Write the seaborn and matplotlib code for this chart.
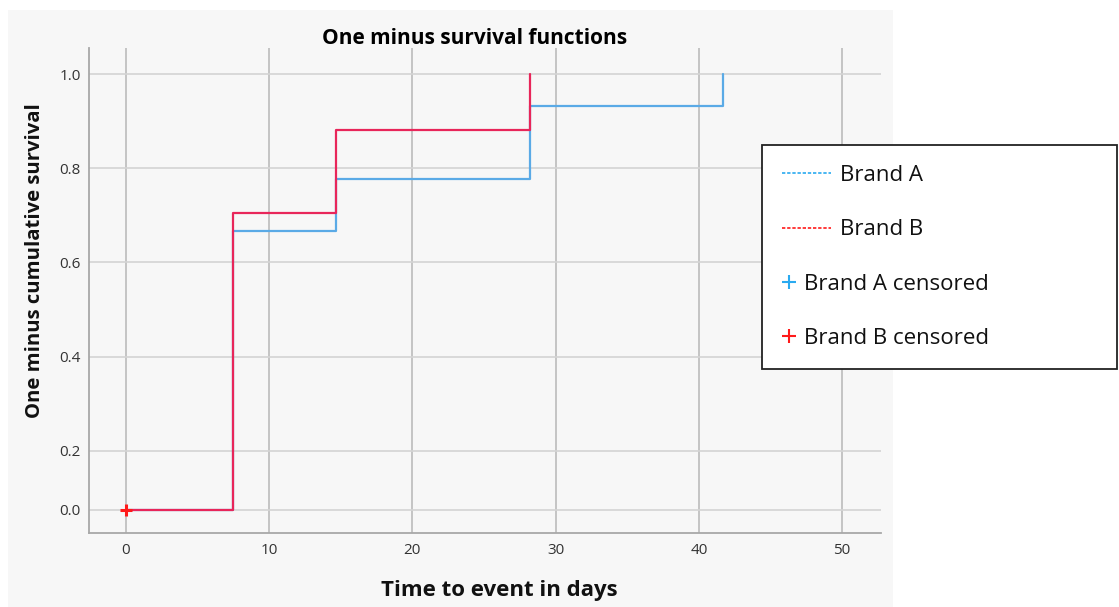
import numpy as np
import pandas as pd
import matplotlib
matplotlib.use("Agg")
import matplotlib.pyplot as plt
from matplotlib.lines import Line2D
from matplotlib.patches import Rectangle
import seaborn as sns

# ---- data ----
brand_a_time = [0, 7.5, 14.7, 28.2, 41.7]
brand_a_value = [0.0, 0.667, 0.778, 0.933, 1.0]
brand_b_time = [0, 7.5, 14.7, 28.2]
brand_b_value = [0.0, 0.706, 0.882, 1.0]
censored_b_time = [0]
censored_b_value = [0.0]
x_ticks = [0, 10, 20, 30, 40, 50]
y_ticks = [0.0, 0.2, 0.4, 0.6, 0.8, 1.0]
y_tick_labels = ["0.0", "0.2", "0.4", "0.6", "0.8", "1.0"]

df = pd.concat([
    pd.DataFrame({"time": brand_a_time, "value": brand_a_value, "brand": "Brand A"}),
    pd.DataFrame({"time": brand_b_time, "value": brand_b_value, "brand": "Brand B"}),
], ignore_index=True)

sns.set_theme(style="whitegrid")
plt.rcParams["font.family"] = ["Open Sans", "DejaVu Sans"]

BG = "#f7f7f7"
fig = plt.figure(figsize=(11.19, 6.07), dpi=100, facecolor="white")
fig.patches.append(Rectangle((8 / 1119, 0), (893 - 8) / 1119, (607 - 10) / 607,
                             transform=fig.transFigure, facecolor=BG,
                             edgecolor="none", zorder=-10))
ax = fig.add_axes([89 / 1119, 1 - 533 / 607, (881 - 89) / 1119, (533 - 48) / 607])
ax.set_facecolor(BG)

pal = {"Brand A": "#5aaae6", "Brand B": "#e8265a"}
sns.lineplot(data=df, x="time", y="value", hue="brand", palette=pal,
             estimator=None, sort=False, drawstyle="steps-post",
             linewidth=1.6, legend=False, ax=ax, zorder=3)
ax.plot(censored_b_time, censored_b_value, linestyle="none", marker="+",
        color="#ff1a1a", markersize=9, markeredgewidth=2.2, zorder=4)

# piecewise axis scale (lower segment compressed as in the original)
k = 0.6275
def fwd(v):
    v = np.asarray(v, dtype=float)
    return np.where(v < 0.2, 0.2 - (0.2 - v) * k, v)
def inv(u):
    u = np.asarray(u, dtype=float)
    return np.where(u < 0.2, 0.2 - (0.2 - u) / k, u)
ax.set_yscale("function", functions=(fwd, inv))

ax.set_xlim(-2.58, 52.72)
ax.set_ylim(-0.078, 1.0553)
ax.set_xticks(x_ticks)
ax.set_yticks(y_ticks)
ax.set_yticklabels(y_tick_labels)
ax.minorticks_off()
ax.tick_params(axis="both", length=0, labelsize=11, colors="#333333")
ax.tick_params(axis="x", pad=7)
ax.tick_params(axis="y", pad=6)

ax.grid(True, axis="y", color="#d4d4d4", linewidth=1.2)
ax.grid(True, axis="x", color="#c4c4c4", linewidth=1.4)
for s in ["top", "right"]:
    ax.spines[s].set_visible(False)
for s in ["left", "bottom"]:
    ax.spines[s].set_color("#a8a8a8")
    ax.spines[s].set_linewidth(1.3)

ax.set_title("One minus survival functions", fontsize=15, fontweight="bold",
             color="black", pad=3, x=0.487)
ax.set_xlabel("Time to event in days", fontsize=16, fontweight="bold",
              color="#111111", labelpad=16)
ax.xaxis.label.set_x(0.518)
ax.set_ylabel("One minus cumulative survival", fontsize=14.6, fontweight="bold",
              color="#111111", labelpad=10)
ax.yaxis.label.set_y(0.561)

# ---- legend (two overlaid legends so the "+" rows sit further left) ----
leg_anchor = (762 / 1119, 1 - 145 / 607, (1117 - 762) / 1119, 0.0)
common = dict(loc="upper left", bbox_to_anchor=leg_anchor, mode="expand",
              fontsize=16, borderpad=0.9, labelspacing=1.5,
              handletextpad=0.4, borderaxespad=0)
blank = Line2D([], [], linestyle="none")
h_lines = [
    Line2D([], [], color="#2aaaf0", linestyle=(0, (2.0, 1.1)), linewidth=1.2),
    Line2D([], [], color="#ff1a1a", linestyle=(0, (2.0, 1.1)), linewidth=1.2),
    blank, blank,
]
leg1 = fig.legend(h_lines, ["Brand A", "Brand B", " ", " "],
                  frameon=True, fancybox=False, edgecolor="#222222",
                  facecolor="white", framealpha=1, handlelength=2.2, **common)
leg1.get_frame().set_linewidth(1.3)
h_cens = [
    blank, blank,
    Line2D([], [], color="#2aaaf0", linestyle="none", marker="+", markersize=10, markeredgewidth=1.5),
    Line2D([], [], color="#ff1a1a", linestyle="none", marker="+", markersize=10, markeredgewidth=1.5),
]
leg2 = fig.legend(h_cens, [" ", " ", "Brand A censored", "Brand B censored"],
                  frameon=False, handlelength=0.6, **common)
for lg in (leg1, leg2):
    for t in lg.get_texts():
        t.set_color("#111111")

fig.savefig("out.png", dpi=100, facecolor="white")
